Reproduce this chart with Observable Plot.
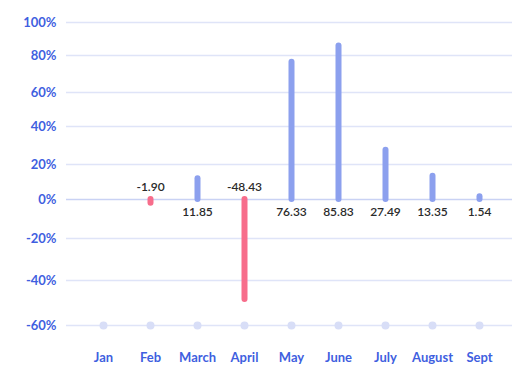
<!DOCTYPE html>
<html>
<head>
<meta charset="utf-8">
<script src="https://cdn.jsdelivr.net/npm/d3@7"></script>
<script src="https://cdn.jsdelivr.net/npm/@observablehq/plot@0.6"></script>
<style>
  html, body { margin: 0; padding: 0; background: #fff; }
  #chart svg { display: block; }
</style>
</head>
<body>
<div id="chart"></div>
<script>
const months = ["Jan", "Feb", "March", "April", "May", "June", "July", "August", "Sept"];
const changes = [null, -1.90, 11.85, -48.43, 76.33, 85.83, 27.49, 13.35, 1.54];
const yTicks = [-60, -40, -20, 0, 20, 40, 60, 80, 100];
const labels = ["", "-1.90", "11.85", "-48.43", "76.33", "85.83", "27.49", "13.35", "1.54"];

const data = months.map((m, i) => ({month: m, value: changes[i], label: labels[i]}));
const bars = data.filter(d => d.value != null);

const font = "Lato, 'Open Sans', sans-serif";

const chart = Plot.plot({
  width: 512,
  height: 380,
  marginLeft: 66,
  marginRight: 0,
  marginTop: 0,
  marginBottom: 0,
  style: {fontFamily: font, background: "#fff"},
  x: {type: "point", domain: months, range: [103, 479], padding: 0, axis: null},
  y: {type: "linear", domain: yTicks, range: [325, 280, 238, 199, 164, 126, 92, 55, 22], axis: null},
  marks: [
    Plot.ruleY(yTicks, {y: d => d, stroke: d => d === 0 ? "#c9d2f4" : "#dfe4f8", strokeWidth: 1.5}),
    Plot.dot(months, {x: d => d, y: -60, r: 4, fill: "#d8def7", stroke: null}),
    Plot.ruleX(bars, {x: "month", y1: 0, y2: "value", stroke: d => d.value < 0 ? "#f76d8b" : "#8ca0ee", strokeWidth: 6, strokeLinecap: "round"}),
    Plot.text(bars.filter(d => d.value < 0), {x: "month", y: 0, text: "label", dy: -12, fill: "#2a2a2a", fontSize: 12, fontWeight: 600}),
    Plot.text(bars.filter(d => d.value >= 0), {x: "month", y: 0, text: "label", dy: 13, fill: "#2a2a2a", fontSize: 12, fontWeight: 600}),
    Plot.text(yTicks, {y: d => d, frameAnchor: "left", dx: -10, textAnchor: "end", text: d => d + "%", fill: "#3f5fe0", fontSize: 13, fontWeight: 700}),
    Plot.text(months, {x: d => d, frameAnchor: "bottom", dy: -19, text: d => d, fill: "#3f5fe0", fontSize: 13, fontWeight: 700})
  ]
});
document.getElementById("chart").appendChild(chart);
</script>
</body>
</html>
